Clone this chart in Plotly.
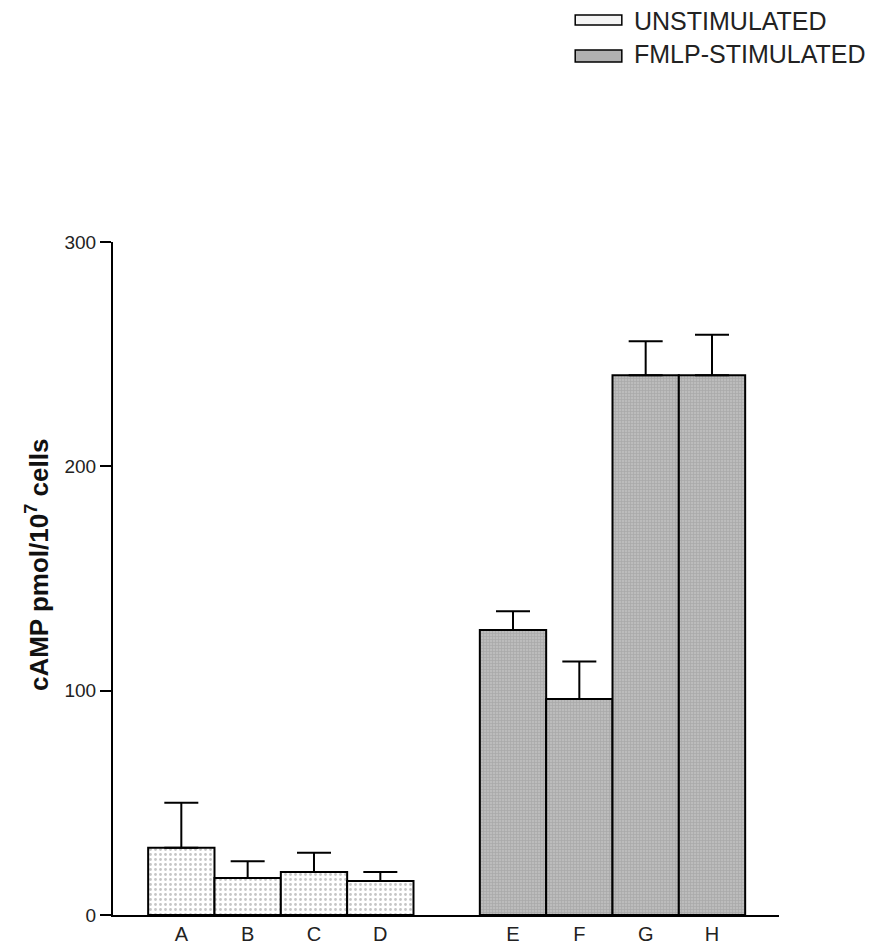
import plotly.graph_objects as go

# ---- data ----
unstim_labels = ["A", "B", "C", "D"]
unstim_pos = [0, 1, 2, 3]
unstim_vals = [30.0, 16.5, 19.2, 15.2]
unstim_err = [20.0, 7.5, 8.5, 4.0]

stim_labels = ["E", "F", "G", "H"]
stim_pos = [5, 6, 7, 8]
stim_vals = [127.0, 96.3, 240.6, 240.6]
stim_err = [8.4, 16.7, 15.2, 18.0]

y_ticks = [0, 100, 200, 300]
legend_names = ["UNSTIMULATED", "FMLP-STIMULATED"]

FONT = "Liberation Sans, Arial, sans-serif"

fig = go.Figure()

fig.add_trace(go.Bar(
    x=unstim_pos, y=unstim_vals, width=1.0, name=legend_names[0],
    marker=dict(color="white", line=dict(color="black", width=2),
                pattern=dict(shape=".", fgcolor="#8c8c8c", bgcolor="white",
                             size=5, solidity=0.25)),
    error_y=dict(type="data", symmetric=False, array=unstim_err,
                 arrayminus=[0] * len(unstim_err), color="black",
                 thickness=2, width=17),
    showlegend=False,
))

fig.add_trace(go.Bar(
    x=stim_pos, y=stim_vals, width=1.0, name=legend_names[1],
    marker=dict(color="#b3b3b3", line=dict(color="black", width=2),
                pattern=dict(shape="+", fgcolor="#8f8f8f", bgcolor="#bcbcbc",
                             size=3, solidity=0.35)),
    error_y=dict(type="data", symmetric=False, array=stim_err,
                 arrayminus=[0] * len(stim_err), color="black",
                 thickness=2, width=17),
    showlegend=False,
))

# legend drawn manually (large rectangular swatches)
sw_x0, sw_x1 = 0.694, 0.764
rows = [(1.3374, 1.3224, 1.3284, "#f4f4f4"), (1.2853, 1.2675, 1.2790, "#b0b0b0")]
shapes = []
annotations = []
for (ya, yb, yt, col), name in zip(rows, legend_names):
    shapes.append(dict(type="rect", xref="paper", yref="paper",
                       x0=sw_x0, x1=sw_x1, y0=yb, y1=ya,
                       line=dict(color="black", width=1.5), fillcolor=col))
    annotations.append(dict(text=name, xref="paper", yref="paper",
                            x=0.779, y=yt, xanchor="left", yanchor="middle",
                            showarrow=False,
                            font=dict(family=FONT, size=25, color="#222")))

annotations.append(dict(text="cAMP pmol/10<sup>7</sup> cells", xref="paper",
                        yref="paper", x=0, xshift=-76, y=0.52,
                        xanchor="center", yanchor="middle", textangle=-90,
                        showarrow=False,
                        font=dict(family=FONT, size=26, color="#111",
                                  weight="bold")))

fig.update_layout(
    width=884, height=945,
    margin=dict(l=113, r=105, t=242, b=30, autoexpand=False),
    paper_bgcolor="white", plot_bgcolor="white",
    barmode="overlay",
    shapes=shapes, annotations=annotations,
    font=dict(family=FONT, color="#222"),
)

fig.update_xaxes(
    range=[-1.03, 9.01], automargin=False,
    tickvals=unstim_pos + stim_pos, ticktext=unstim_labels + stim_labels,
    tickfont=dict(size=20, color="#222"),
    showline=True, linecolor="black", linewidth=2,
    ticks="", showgrid=False, zeroline=False,
)
fig.update_yaxes(
    range=[0, 300], tickvals=y_ticks, automargin=False,
    tickfont=dict(size=19, color="#222"),
    showline=True, linecolor="black", linewidth=2,
    ticks="outside", ticklen=11, tickwidth=1.5, tickcolor="black",
    showgrid=False, zeroline=False,
)

fig.write_html("out.html")
